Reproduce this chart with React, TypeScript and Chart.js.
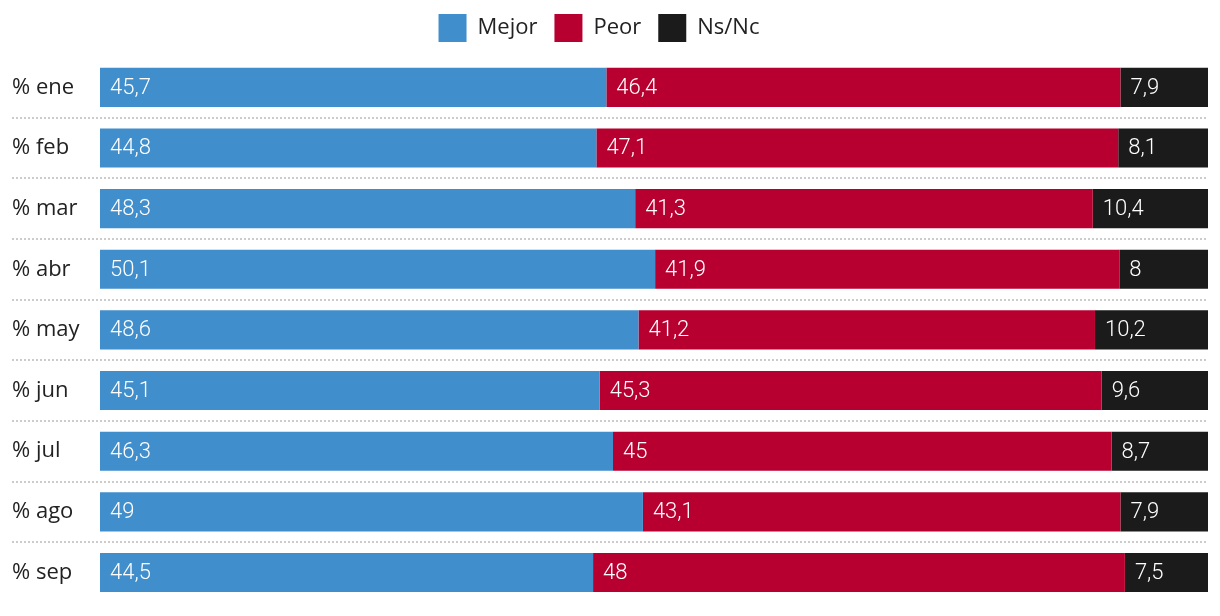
import React, { useEffect, useRef } from "react";
import { Chart, registerables } from "chart.js";

Chart.register(...registerables);

const categories = ["% ene", "% feb", "% mar", "% abr", "% may", "% jun", "% jul", "% ago", "% sep"];
const mejor = [45.7, 44.8, 48.3, 50.1, 48.6, 45.1, 46.3, 49, 44.5];
const peor = [46.4, 47.1, 41.3, 41.9, 41.2, 45.3, 45, 43.1, 48];
const nsnc = [7.9, 8.1, 10.4, 8, 10.2, 9.6, 8.7, 7.9, 7.5];

const FONT = "'Open Sans', Roboto, sans-serif";
const LABEL_FONT = "Roboto, 'Open Sans', sans-serif";

const legendSpacePlugin = {
  id: "legendSpace",
  beforeLayout(chart: any) {
    const lg = chart.legend;
    if (lg && !lg.__patched) {
      const orig = lg.fit.bind(lg);
      lg.fit = function () {
        orig();
        this.height += 5;
      };
      lg.__patched = true;
    }
  },
  afterLayout(chart: any) {
    const lg = chart.legend;
    if (lg) {
      lg.left -= 22;
    }
  },
};

const separatorPlugin = {
  id: "separators",
  beforeDatasetsDraw(chart: any) {
    const { ctx, chartArea } = chart;
    const y = chart.scales.y;
    ctx.save();
    ctx.strokeStyle = "#cccccc";
    ctx.lineWidth = 2;
    ctx.setLineDash([2, 2]);
    for (let i = 0; i < categories.length - 1; i++) {
      const py = Math.round((y.getPixelForValue(i) + y.getPixelForValue(i + 1)) / 2);
      ctx.beginPath();
      ctx.moveTo(12, py);
      ctx.lineTo(chartArea.right, py);
      ctx.stroke();
    }
    ctx.restore();
  },
};

const labelPlugin = {
  id: "barLabels",
  afterDatasetsDraw(chart: any) {
    const { ctx } = chart;
    ctx.save();
    ctx.fillStyle = "#ffffff";
    ctx.font = `300 22px ${LABEL_FONT}`;
    ctx.textAlign = "left";
    ctx.textBaseline = "middle";
    chart.data.datasets.forEach((ds: any, di: number) => {
      const meta = chart.getDatasetMeta(di);
      meta.data.forEach((el: any, i: number) => {
        const v = ds.data[i];
        const left = Math.min(el.base, el.x);
        ctx.fillText(String(v).replace(".", ","), left + 10, el.y + 1);
      });
    });
    ctx.restore();
  },
};

export default function App() {
  const ref = useRef<HTMLCanvasElement | null>(null);
  useEffect(() => {
    if (!ref.current) return;
    const chart = new Chart(ref.current, {
      type: "bar",
      data: {
        labels: categories,
        datasets: [
          { label: "Mejor", data: mejor, backgroundColor: "#408ecb" },
          { label: "Peor", data: peor, backgroundColor: "#b80030" },
          { label: "Ns/Nc", data: nsnc, backgroundColor: "#1b1b1b" },
        ],
      },
      options: {
        indexAxis: "y",
        animation: false,
        responsive: false,
        maintainAspectRatio: false,
        layout: { padding: { left: 12, right: 12, top: -3, bottom: 1 } },
        datasets: {
          bar: { barPercentage: 40 / 62, categoryPercentage: 1, borderWidth: 0 },
        },
        scales: {
          x: { stacked: true, min: 0, max: 100, display: false },
          y: {
            stacked: true,
            grid: { display: false, drawTicks: false },
            border: { display: false },
            ticks: {
              crossAlign: "far",
              color: "#222222",
              font: { family: FONT, size: 22 },
              padding: 0,
            },
            afterFit(scale: any) {
              scale.width = 88;
            },
          },
        },
        plugins: {
          legend: {
            position: "top",
            labels: {
              boxWidth: 28,
              boxHeight: 28,
              padding: 17,
              color: "#222222",
              font: { family: FONT, size: 22 },
            },
          },
          tooltip: { enabled: false },
        },
      },
      plugins: [legendSpacePlugin, separatorPlugin, labelPlugin],
    });
    return () => chart.destroy();
  }, []);
  return (
    <div style={{ position: "fixed", left: 0, top: 0, width: 1220, height: 616 }}>
      <canvas ref={ref} width={1220} height={616} style={{ display: "block", width: 1220, height: 616 }} />
    </div>
  );
}
